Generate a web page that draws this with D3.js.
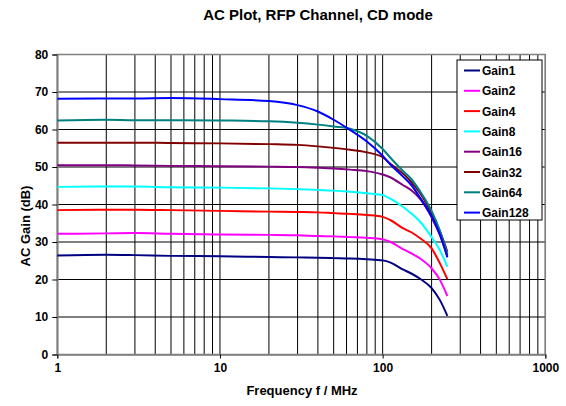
<!DOCTYPE html>
<html><head><meta charset="utf-8">
<script src="https://cdn.jsdelivr.net/npm/d3@7"></script>
<style>
body{margin:0;background:#fff;}
text{font-family:"Liberation Sans",Arial,sans-serif;font-weight:bold;}
</style></head>
<body><svg id="c" width="566" height="406"></svg>
<script>
const title = "AC Plot, RFP Channel, CD mode";
const xTitle = "Frequency f / MHz";
const yTitle = "AC Gain (dB)";
const freqs = [1,2,3,5,10,20,30,40,50,63,80,100,112,133,150,170,200,225,250];
const seriesNames = ["Gain1","Gain2","Gain4","Gain8","Gain16","Gain32","Gain64","Gain128"];
const seriesColors = ["#000080","#ff00ff","#ff0000","#00ffff","#800080","#800000","#008080","#0000ff"];
const gain1   = [26.4,26.6,26.5,26.3,26.2,26.0,25.9,25.8,25.7,25.6,25.4,25.1,24.5,22.7,21.6,20.2,17.7,14.5,10.3];
const gain2   = [32.2,32.3,32.4,32.2,32.0,31.9,31.8,31.6,31.5,31.3,31.1,30.7,30.0,28.1,27.0,25.6,23.0,19.9,15.6];
const gain4   = [38.5,38.6,38.6,38.5,38.3,38.1,38.0,37.9,37.7,37.5,37.2,36.7,35.8,33.7,32.6,31.0,28.3,24.3,20.1];
const gain8   = [44.7,44.8,44.8,44.6,44.5,44.3,44.1,43.9,43.7,43.4,43.0,42.5,41.5,39.4,37.6,35.4,31.3,27.8,23.4];
const gain16  = [50.5,50.5,50.4,50.3,50.2,50.1,50.0,49.8,49.6,49.3,48.9,48.0,47.2,45.2,43.8,41.5,36.6,31.8,26.3];
const gain32  = [56.5,56.5,56.5,56.4,56.3,56.1,55.9,55.5,55.1,54.6,53.9,52.6,50.8,48.3,46.0,43.0,37.6,32.8,27.4];
const gain64  = [62.4,62.6,62.5,62.5,62.4,62.2,61.8,61.3,60.8,60.2,58.3,54.8,52.4,49.0,46.8,43.5,38.3,33.0,26.8];
const gain128 = [68.2,68.3,68.3,68.4,68.1,67.6,66.5,64.8,62.6,59.9,56.8,53.0,50.6,47.5,45.2,41.8,36.8,32.0,25.9];
const seriesValues = [gain1,gain2,gain4,gain8,gain16,gain32,gain64,gain128];
const xTicks = [1,10,100,1000];
const yTicks = [0,10,20,30,40,50,60,70,80];

const svg = d3.select("#c");
const L=57.3, R=545.3, T=54.5, B=354.5;
const x = d3.scaleLog().domain([1,1000]).range([L,R]);
const y = d3.scaleLinear().domain([0,80]).range([B,T]);

// grid
const minor=[];
for(let d=1; d<1000; d*=10) for(let k=1;k<10;k++) minor.push(d*k);
minor.push(1000);
svg.append("g").selectAll("line").data(minor).join("line")
  .attr("x1",d=>x(d)).attr("x2",d=>x(d)).attr("y1",T).attr("y2",B)
  .attr("stroke","#000").attr("stroke-width",1);
svg.append("g").selectAll("line").data(yTicks).join("line")
  .attr("x1",L).attr("x2",R).attr("y1",d=>y(d)).attr("y2",d=>y(d))
  .attr("stroke","#000").attr("stroke-width",1);
// border
svg.append("rect").attr("x",L).attr("y",T).attr("width",R-L).attr("height",B-T)
  .attr("fill","none").attr("stroke","#808080").attr("stroke-width",1.5);

const styleAxis = g=>{g.select(".domain").attr("stroke","#808080").attr("stroke-width",1.5);
    g.selectAll("text").attr("font-size",12).attr("font-family","Liberation Sans, Arial, sans-serif").attr("font-weight","bold").attr("fill","#000");
    g.selectAll("line").attr("stroke","#000");};
const ya = d3.axisLeft(y).tickValues(yTicks).tickSize(5).tickPadding(4);
svg.append("g").attr("transform",`translate(${L},0)`).call(ya).call(styleAxis);
const xa = d3.axisBottom(x).tickValues(xTicks).tickFormat(d3.format("d")).tickSize(4).tickPadding(5);
svg.append("g").attr("transform",`translate(0,${B})`).call(xa).call(styleAxis);

// lines
const line = d3.line().x((d,i)=>x(freqs[i])).y(d=>y(d)).curve(d3.curveMonotoneX);
seriesValues.forEach((vals,i)=>{
  svg.append("path").attr("d",line(vals)).attr("fill","none")
    .attr("stroke",seriesColors[i]).attr("stroke-width",2);
});

// titles
svg.append("text").attr("x",318).attr("y",20).attr("text-anchor","middle")
  .attr("font-size",15).text(title);
svg.append("text").attr("x",302).attr("y",395).attr("text-anchor","middle")
  .attr("font-size",13).text(xTitle);
svg.append("text").attr("transform","translate(30,226) rotate(-90)").attr("text-anchor","middle")
  .attr("font-size",13).text(yTitle);

// legend
const lg = svg.append("g");
lg.append("rect").attr("x",457).attr("y",60).attr("width",85).attr("height",160)
  .attr("fill","#fff").attr("stroke","#000").attr("stroke-width",1);
seriesNames.forEach((n,i)=>{
  const yy = 70.5 + i*20.3;
  lg.append("line").attr("x1",464).attr("x2",480).attr("y1",yy).attr("y2",yy)
    .attr("stroke",seriesColors[i]).attr("stroke-width",2);
  lg.append("text").attr("x",482).attr("y",yy+4.5).attr("font-size",12).text(n);
});
</script></body></html>
